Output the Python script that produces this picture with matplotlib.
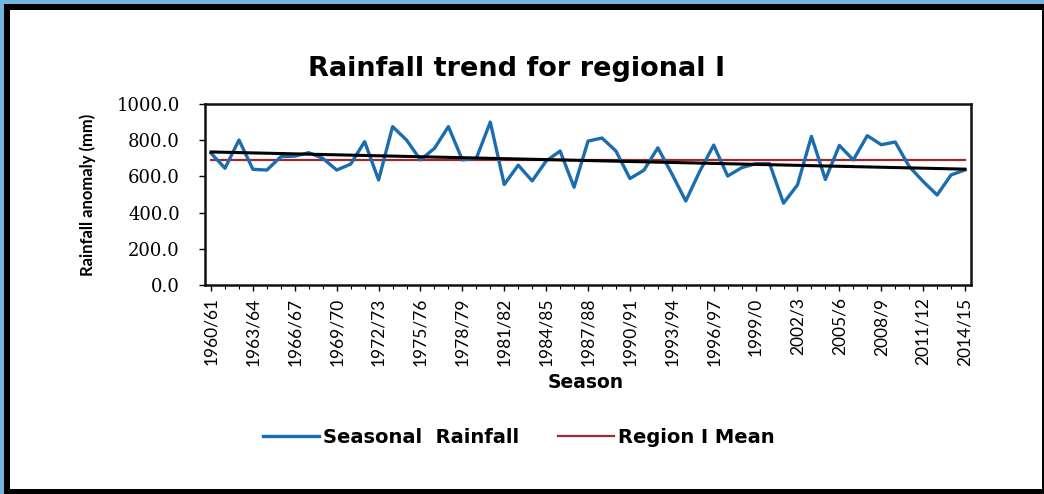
import numpy as np
import matplotlib.pyplot as plt
from matplotlib.patches import Rectangle

# seasons 1960/61 .. 2014/15
seasons = ['1960/61', '1961/62', '1962/63', '1963/64', '1964/65', '1965/66', '1966/67',
           '1967/68', '1968/69', '1969/70', '1970/71', '1971/72', '1972/73', '1973/74',
           '1974/75', '1975/76', '1976/77', '1977/78', '1978/79', '1979/80', '1980/81',
           '1981/82', '1982/83', '1983/84', '1984/85', '1985/86', '1986/87', '1987/88',
           '1988/89', '1989/90', '1990/91', '1991/92', '1992/93', '1993/94', '1994/95',
           '1995/96', '1996/97', '1997/98', '1998/99', '1999/0', '2000/1', '2001/2',
           '2002/3', '2003/4', '2004/5', '2005/6', '2006/7', '2007/8', '2008/9',
           '2009/10', '2010/11', '2011/12', '2012/13', '2013/14', '2014/15']

rainfall = [728, 645, 801, 639, 635, 709, 712, 731, 700, 635,
            668, 792, 580, 875, 801, 691, 755, 875, 691, 700,
            900, 555, 662, 575, 685, 740, 540, 795, 812, 740,
            588, 634, 758, 615, 464, 628, 773, 602, 648, 670,
            671, 452, 553, 821, 583, 771, 691, 825, 775, 790,
            655, 572, 497, 608, 636]

region_mean = 690.0
# linear trendline (first and last season)
trend_ends = [735.0, 640.0]

x = np.arange(len(seasons))
y = np.array(rainfall, dtype=float)
trend = np.interp(x, [x[0], x[-1]], trend_ends)

fig = plt.figure(figsize=(10.44, 4.94), dpi=100, facecolor='#72b6e0')
# black frame + white slide
fig.patches.append(Rectangle((0.00383, 0.0), 0.99617, 0.9919, transform=fig.transFigure,
                             facecolor='black', edgecolor='none', zorder=-2))
fig.patches.append(Rectangle((0.00958, 0.0101), 0.9885, 0.9697, transform=fig.transFigure,
                             facecolor='white', edgecolor='none', zorder=-1))

ax = fig.add_axes([0.1964, 0.4231, 0.7337, 0.3664])
ax.set_facecolor('white')

l1, = ax.plot(x, y, color='#1c6db0', lw=2.4, label='Seasonal  Rainfall', zorder=3)
l2, = ax.plot(x, np.full(len(x), region_mean), color='#a3262d', lw=1.6,
              label='Region I Mean', zorder=2)
ax.plot(x, trend, color='black', lw=2.2, zorder=4)

ax.set_xlim(-0.43, len(x) - 1 + 0.43)
ax.set_ylim(0, 1000)
ax.set_yticks(np.arange(0, 1001, 200))
ax.set_yticklabels([f'{v:.1f}' for v in np.arange(0, 1001, 200)],
                   family='DejaVu Serif', fontsize=13)

ax.set_xticks(x[::3])
ax.set_xticklabels(seasons[::3], rotation=90, family='Lato', fontsize=12.5)
ax.set_xticks(x, minor=True)
ax.tick_params(axis='x', which='major', length=4, width=1, pad=5)
ax.tick_params(axis='x', which='minor', length=3, width=0.8)
ax.tick_params(axis='y', length=4, width=1, pad=14)

for s in ax.spines.values():
    s.set_linewidth(1.8)
    s.set_color('#111111')

fig.text(0.495, 0.860, 'Rainfall trend for regional I', ha='center', va='center',
         family='DejaVu Sans', fontweight='bold', fontsize=19.5)
fig.text(0.084, 0.605, 'Rainfall anomaly (mm)', rotation=90, ha='center', va='center',
         family='Lato', fontweight='bold', fontsize=12)
fig.text(0.561, 0.225, 'Season', ha='center', va='center',
         family='DejaVu Sans', fontweight='bold', fontsize=13.5)

fig.legend(handles=[l1, l2], loc='center', bbox_to_anchor=(0.497, 0.115), ncol=2,
           frameon=False, prop={'family': 'DejaVu Sans', 'weight': 'bold', 'size': 14},
           handlelength=2.9, handletextpad=0.2, columnspacing=2.0)

plt.savefig('out.png', dpi=100, facecolor=fig.get_facecolor())
